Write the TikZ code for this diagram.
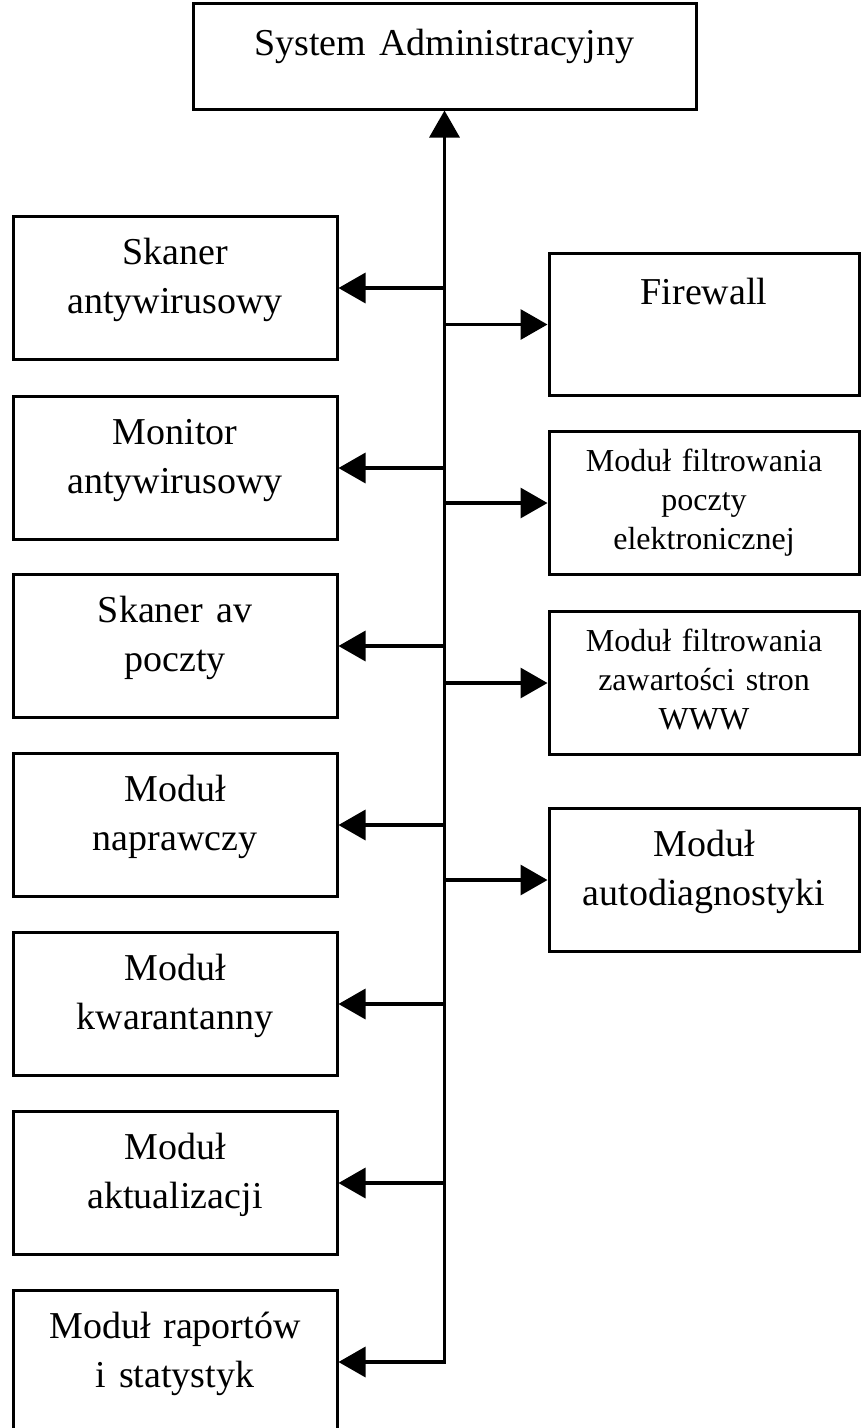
\documentclass[tikz,border=0pt]{standalone}
\usepackage{fontspec}
\setmainfont{Liberation Serif}
\usetikzlibrary{arrows.meta,positioning}
\tikzset{
  box/.style   ={draw,line width=3pt,inner sep=0pt,align=center,anchor=north,
                 text height=48pt,text depth=95pt,
                 font=\fontsize{38}{49}\selectfont},
  lbox/.style  ={box,text width=324pt},
  rbox/.style  ={box,text width=310pt},
  small/.style ={font=\fontsize{32}{39}\selectfont,text height=40pt,text depth=103pt},
  tip/.tip     ={Triangle[length=27pt,width=30pt]},
  link/.style  ={line width=3.3pt,-tip},
}

\begin{document}
\begin{tikzpicture}[x=1pt,y=-1pt]
\useasboundingbox (0,0) rectangle (861,1428);

\node[box,text width=503pt,text height=52pt,text depth=54pt] (sys) at (444.5,1.5)
  {System Administracyjny};

% ---- left column -------------------------------------------------------
\node[lbox] (skan)   at (175,215)  {Skaner\\antywirusowy};
\node[lbox] (mon)    at (175,395)  {Monitor\\antywirusowy};
\node[lbox] (skanav) at (175,573)  {Skaner av\\poczty};
\node[lbox] (napr)   at (175,752)  {Moduł\\naprawczy};
\node[lbox] (kwar)   at (175,931)  {Moduł\\kwarantanny};
\node[lbox] (aktu)   at (175,1110) {Moduł\\aktualizacji};
\node[lbox] (rap)    at (175,1289) {Moduł raportów\\i statystyk};

% ---- right column ------------------------------------------------------
\node[rbox,text height=51pt,text depth=91pt] (fw) at (704,252) {Firewall};
\node[rbox,small] (poczta) at (704,430) {Moduł filtrowania\\poczty\\elektronicznej};
\node[rbox,small] (www)    at (704,610) {Moduł filtrowania\\zawartości stron\\WWW};
\node[rbox] (diag)   at (704,807)  {Moduł\\autodiagnostyki};

% ---- spine -------------------------------------------------------------
\draw[link,tip-tip] (rap.east) -| (sys.south);
\foreach \n in {skan,mon,skanav,napr,kwar,aktu}
  {\draw[link] (\n.east -| sys.south) -- (\n.east);}
\foreach \n in {fw,poczta,www,diag}
  {\draw[link] (\n.west -| sys.south) -- (\n.west);}
\end{tikzpicture}
\end{document}
